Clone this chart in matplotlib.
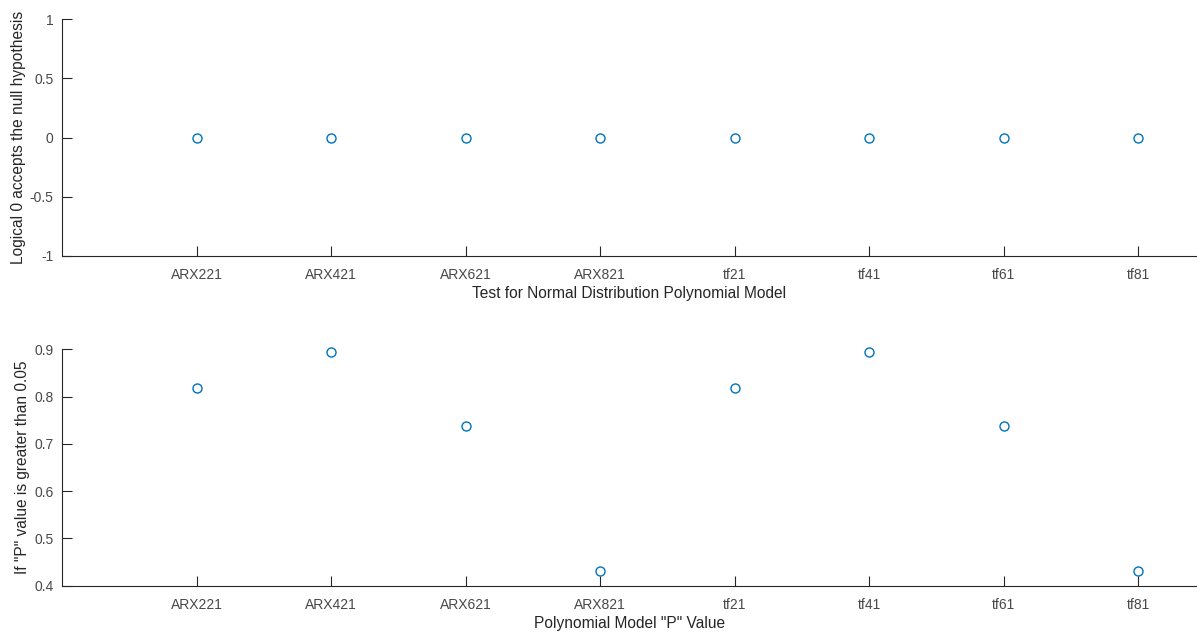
import matplotlib
matplotlib.use("Agg")
import matplotlib.pyplot as plt
from matplotlib.ticker import FuncFormatter

models = ["ARX221", "ARX421", "ARX621", "ARX821", "tf21", "tf41", "tf61", "tf81"]
h_values = [0, 0, 0, 0, 0, 0, 0, 0]
p_values = [0.819, 0.895, 0.738, 0.432, 0.819, 0.895, 0.738, 0.432]

plt.rcParams["font.family"] = ["Liberation Sans", "DejaVu Sans"]

W, H = 1197, 633
fig = plt.figure(figsize=(W / 100, H / 100), dpi=100)

axcol = "#262626"
txtcol = "#484848"
mcol = "#0072BD"

left = 62 / W
width = 1.0 - left


def style(ax, xlabel, ylabel):
    for s in ("top", "right"):
        ax.spines[s].set_visible(False)
    for s in ("left", "bottom"):
        ax.spines[s].set_color(axcol)
        ax.spines[s].set_linewidth(0.8)
    ax.tick_params(direction="in", length=7.5, width=0.8, color=axcol,
                   labelcolor=txtcol, labelsize=10)
    ax.tick_params(axis="x", pad=9)
    ax.tick_params(axis="y", pad=6)
    ax.set_xticks(range(1, len(models) + 1))
    ax.set_xticklabels(models)
    ax.set_xlim(0, (W - 62) / 134.5)
    ax.set_xlabel(xlabel, fontsize=11.2, color=axcol, labelpad=3)
    ax.set_ylabel(ylabel, fontsize=11.2, color=axcol, labelpad=3)


x = list(range(1, len(models) + 1))

ax1 = fig.add_axes([left, 1 - 255.7 / H, width, (255.7 - 19.3) / H])
ax1.plot(x, h_values, linestyle="none", marker="o", markersize=6.5,
         markerfacecolor="none", markeredgecolor=mcol, markeredgewidth=1.0,
         clip_on=False)
ax1.set_ylim(-1, 1)
ax1.set_yticks([-1, -0.5, 0, 0.5, 1])
ax1.yaxis.set_major_formatter(FuncFormatter(lambda v, p: f"{v:g}"))
style(ax1, "Test for Normal Distribution Polynomial Model",
      "Logical 0 accepts the null hypothesis")

ax2 = fig.add_axes([left, 1 - 585.7 / H, width, (585.7 - 349.3) / H])
ax2.plot(x, p_values, linestyle="none", marker="o", markersize=6.5,
         markerfacecolor="none", markeredgecolor=mcol, markeredgewidth=1.0,
         clip_on=False)
ax2.set_ylim(0.4, 0.9)
ax2.set_yticks([0.4, 0.5, 0.6, 0.7, 0.8, 0.9])
ax2.yaxis.set_major_formatter(FuncFormatter(lambda v, p: f"{v:.1f}"))
style(ax2, 'Polynomial Model "P" Value',
      'If "P" value is greater than 0.05')

fig.savefig("out.png", dpi=100)
